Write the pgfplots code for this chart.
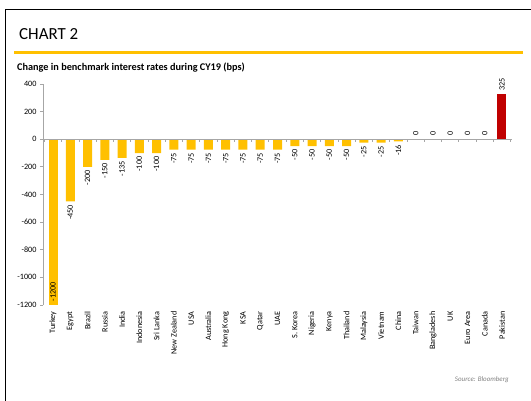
\documentclass[border=0pt]{standalone}
\usepackage{pgfplots}
\pgfplotsset{compat=1.18}
\usepackage{fontspec}
\setmainfont{Carlito}
\definecolor{gold}{HTML}{FFC000}
\definecolor{darkred}{HTML}{C00000}
\definecolor{axisgray}{HTML}{A6A6A6}
\newcommand\smallfont{\fontsize{8.2}{9.5}\selectfont}
\begin{document}
\begin{tikzpicture}
\useasboundingbox (0bp,0bp) rectangle (531bp,401bp);
% frame, rule and titles
\draw[line width=1.5bp] (5.5bp,-5bp) -- (5.5bp,391.5bp) -- (540bp,391.5bp);
\draw[gold, line width=3.5bp] (14bp,348.3bp) -- (523bp,348.3bp);
\node[anchor=base west, inner sep=0pt, font=\fontsize{17}{20}\selectfont] at (19bp,361bp) {CHART 2};
\node[anchor=base west, inner sep=0pt, font=\bfseries\fontsize{10.3}{12}\selectfont] at (17bp,330bp) {Change in benchmark interest rates during CY19 (bps)};
\node[anchor=base east, inner sep=0pt, text=gray, font=\itshape\fontsize{7}{8}\selectfont] at (509bp,20bp) {Source: Bloomberg};

\begin{axis}[
    at={(43bp,96bp)}, anchor=south west,
    scale only axis, width=469bp, height=221bp,
    ybar, bar width=9bp, bar shift=0pt,
    xmin=-0.58, xmax=26.58, ymin=-1200, ymax=400,
    clip=false,
    axis x line*=bottom, axis y line*=left,
    x axis line style={draw=none},
    y axis line style={axisgray, line width=0.8bp},
    xtick={0,...,26},
    xticklabels={Turkey,Egypt,Brazil,Russia,India,Indonesia,Sri Lanka,New Zealand,USA,Australia,Hong Kong,KSA,Qatar,UAE,S. Korea,Nigeria,Kenya,Thailand,Malaysia,Vietnam,China,Taiwan,Bangladesh,UK,Euro Area,Canada,Pakistan},
    x tick style={draw=none},
    xticklabel style={rotate=90, anchor=east, font=\smallfont},
    ytick={-1200,-1000,...,400},
    y tick style={axisgray, line width=0.8bp},
    tick align=outside, major tick length=3bp,
    yticklabel style={font=\smallfont},
    scaled y ticks=false,
    /pgf/number format/assume math mode=true,
    /pgf/number format/1000 sep={},
    nodes near coords,
    every node near coord/.append style={rotate=90, font=\smallfont, text=black},
]
% Turkey: label sits inside the bar
\addplot[fill=gold, draw=none, every node near coord/.append style={anchor=west}]
    coordinates {(0,-1200)};
% other cuts
\addplot[fill=gold, draw=none, every node near coord/.append style={anchor=east}]
    coordinates {(1,-450) (2,-200) (3,-150) (4,-135) (5,-100) (6,-100)
                 (7,-75) (8,-75) (9,-75) (10,-75) (11,-75) (12,-75) (13,-75)
                 (14,-50) (15,-50) (16,-50) (17,-50) (18,-25) (19,-25) (20,-16)};
% unchanged
\addplot[fill=gold, draw=none, every node near coord/.append style={anchor=west}]
    coordinates {(21,0) (22,0) (23,0) (24,0) (25,0)};
% hike
\addplot[fill=darkred, draw=none, every node near coord/.append style={anchor=west}]
    coordinates {(26,325)};
\draw[axisgray, line width=0.8bp] (axis cs:-0.58,0) -- (axis cs:26.58,0);
\pgfplotsinvokeforeach{-0.5,0.5,...,26.5}{
    \draw[axisgray, line width=0.8bp] (axis cs:#1,0) -- ++(0pt,-3bp);
}
\end{axis}
\end{tikzpicture}
\end{document}
